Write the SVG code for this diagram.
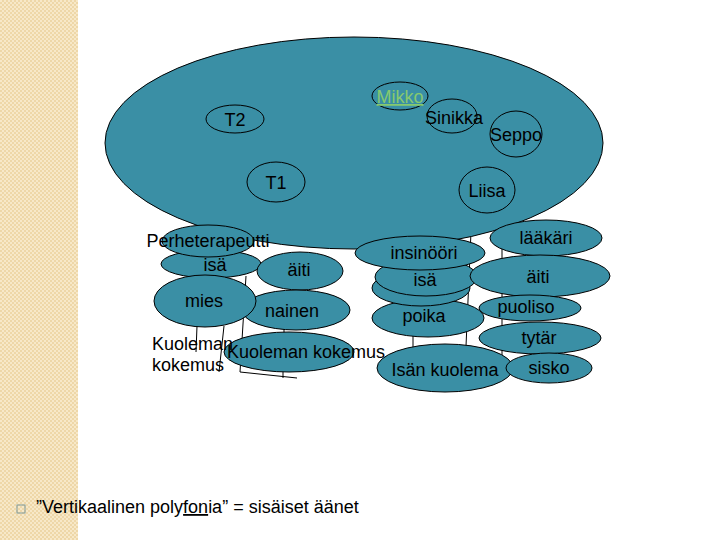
<svg xmlns="http://www.w3.org/2000/svg" width="720" height="540" viewBox="0 0 720 540">
<defs>
<pattern id="chk" width="4" height="4" patternUnits="userSpaceOnUse">
<rect width="4" height="4" fill="#eed7a8"/>
<rect width="2" height="2" fill="#f7e8c8"/>
<rect x="2" y="2" width="2" height="2" fill="#f7e8c8"/>
</pattern>
<style>
.n{fill:#3a8fa5;stroke:#000;stroke-width:1}
.t{font-family:"Liberation Sans",Arial,sans-serif;font-size:18px;fill:#000;text-anchor:middle}
.l{font-family:"Liberation Sans",Arial,sans-serif;font-size:18px;fill:#000}
.c{fill:none;stroke:#000;stroke-width:1}
</style>
</defs>
<rect width="720" height="540" fill="#fff"/>
<rect width="78" height="540" fill="url(#chk)"/>

<g id="connectors">
<path class="c" d="M197 326 L196 352"/>
<path class="c" d="M224 326 L219 372"/>
<path class="c" d="M246 276 L240 372 L297 378"/>
<path class="c" d="M283 371 L283 378"/>
<path class="c" d="M284 326 L284 334"/>
<path class="c" d="M471 232 L466 346"/>
<path class="c" d="M502 245 L502 358"/>
<path class="c" d="M413 334 L413 348"/>
</g>

<g id="big"><ellipse class="n" cx="354" cy="143" rx="249" ry="106"/></g>
<g id="mikko"><ellipse class="n" cx="400" cy="96" rx="28" ry="14"/>
<text class="t" x="400" y="103" style="fill:#86c96f" text-decoration="underline">Mikko</text></g>
<g id="t2"><ellipse class="n" cx="235" cy="119" rx="29" ry="14"/><text class="t" x="235" y="126">T2</text></g>
<g id="sinikka"><ellipse class="n" cx="452" cy="116" rx="25" ry="17"/><text class="t" x="454" y="124">Sinikka</text></g>
<g id="seppo"><ellipse class="n" cx="516" cy="134" rx="26" ry="23"/><text class="t" x="516" y="141">Seppo</text></g>
<g id="t1"><ellipse class="n" cx="276" cy="182" rx="29" ry="20"/><text class="t" x="276" y="189">T1</text></g>
<g id="liisa"><ellipse class="n" cx="487" cy="190" rx="28" ry="23"/><text class="t" x="487" y="197">Liisa</text></g>

<g id="isa-left"><ellipse class="n" cx="211" cy="264" rx="50" ry="14"/><text class="t" x="215" y="271">isä</text></g>
<g id="perheterapeutti"><ellipse class="n" cx="208" cy="241" rx="46" ry="16"/><text class="t" x="208" y="247">Perheterapeutti</text></g>
<g id="aiti-left"><ellipse class="n" cx="300" cy="271" rx="43" ry="19"/><text class="t" x="299" y="276">äiti</text></g>
<g id="nainen"><ellipse class="n" cx="296" cy="310" rx="54" ry="20"/><text class="t" x="292" y="317">nainen</text></g>
<g id="mies"><ellipse class="n" cx="205" cy="301" rx="51" ry="26"/><text class="t" x="204" y="307">mies</text></g>
<g id="kuoleman-kokemus"><ellipse class="n" cx="289" cy="352" rx="65" ry="20"/><text class="l" x="227" y="358">Kuoleman kokemus</text></g>
<g id="kuoleman-label"><text class="l" x="152" y="350">Kuoleman</text><text class="l" x="152" y="371">kokemus</text></g>

<g id="laakari"><ellipse class="n" cx="546" cy="238" rx="56" ry="18"/><text class="t" x="546" y="244">lääkäri</text></g>
<g id="poika"><ellipse class="n" cx="428" cy="318" rx="56" ry="19"/><text class="t" x="424" y="322">poika</text></g>
<g id="isa-back"><ellipse class="n" cx="421" cy="288" rx="49" ry="18"/></g>
<g id="isa-right"><ellipse class="n" cx="426" cy="277" rx="51" ry="19"/><text class="t" x="425" y="286">isä</text></g>
<g id="insinoori"><ellipse class="n" cx="420" cy="253" rx="65" ry="17"/><text class="t" x="424" y="259">insinööri</text></g>
<g id="aiti-right"><ellipse class="n" cx="540" cy="276" rx="70" ry="21"/><text class="t" x="538" y="283">äiti</text></g>
<g id="puoliso"><ellipse class="n" cx="530" cy="308" rx="51" ry="13"/><text class="t" x="526" y="313">puoliso</text></g>
<g id="tytar"><ellipse class="n" cx="540" cy="338" rx="61" ry="16"/><text class="t" x="539" y="344">tytär</text></g>
<g id="isan-kuolema"><ellipse class="n" cx="445" cy="368" rx="68" ry="24"/><text class="t" x="445" y="376">Isän kuolema</text></g>
<g id="sisko"><ellipse class="n" cx="549" cy="368" rx="43" ry="15"/><text class="t" x="549" y="374">sisko</text></g>

<g id="bullet">
<rect x="17" y="505" width="8" height="8" fill="none" stroke="#7f9a9a" stroke-width="1"/>
<text class="l" x="36" y="513">”Vertikaalinen poly<tspan text-decoration="underline">fon</tspan>ia” = sisäiset äänet</text>
</g>
</svg>
